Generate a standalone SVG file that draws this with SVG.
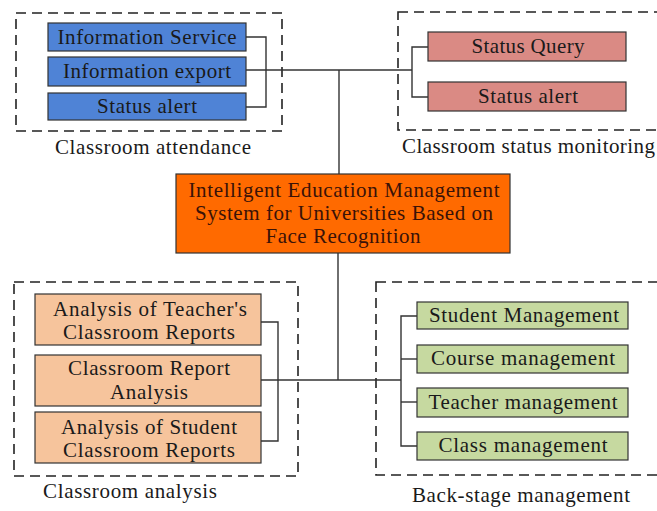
<svg xmlns="http://www.w3.org/2000/svg" width="657" height="511" viewBox="0 0 657 511">
<style>
text{font-family:"Liberation Serif","Times New Roman",serif;font-size:21px;fill:#1a1a1a;text-anchor:middle}
.grp{fill:none;stroke:#222;stroke-width:1.6;stroke-dasharray:10 6}
.box{stroke:#333;stroke-width:1.2}
.blue{fill:#4f83d6}
.pink{fill:#da8a84}
.peach{fill:#f6c49c}
.green{fill:#c6d9a0}
.orange{fill:#ff6a00}
.con{fill:none;stroke:#333;stroke-width:1.4}
.title{fill:#3a1208}
</style>
<rect width="657" height="511" fill="#fff"/>
<g id="group-attendance">
<rect class="grp" x="16" y="13" width="266" height="118"/>
<text x="153" y="154" textLength="196" lengthAdjust="spacing">Classroom attendance</text>
</g>
<g id="group-monitoring">
<rect class="grp" x="398" y="12" width="270" height="118"/>
<text x="402" y="153" style="text-anchor:start" textLength="253" lengthAdjust="spacing">Classroom status monitoring</text>
</g>
<g id="group-analysis">
<rect class="grp" x="14" y="282" width="284" height="194"/>
<text x="130" y="498" textLength="174" lengthAdjust="spacing">Classroom analysis</text>
</g>
<g id="group-backstage">
<rect class="grp" x="376" y="282" width="292" height="193"/>
<text x="521" y="502" textLength="218" lengthAdjust="spacing">Back-stage management</text>
</g>
<g id="connectors">
<polyline class="con" points="246,37 266,37 266,107 246,107"/>
<line class="con" x1="246" y1="70" x2="412" y2="70"/>
<line class="con" x1="339" y1="70" x2="339" y2="174"/>
<polyline class="con" points="428,47 412,47 412,97 428,97"/>
<line class="con" x1="338" y1="253" x2="338" y2="380"/>
<polyline class="con" points="261,322 278,322 278,441 261,441"/>
<line class="con" x1="261" y1="380" x2="401" y2="380"/>
<polyline class="con" points="417,316 401,316 401,446 417,446"/>
<line class="con" x1="401" y1="359" x2="417" y2="359"/>
<line class="con" x1="401" y1="402" x2="417" y2="402"/>
</g>
<g id="center">
<rect class="box orange" x="176" y="174" width="334" height="79"/>
<text class="title" x="344" y="197" textLength="311" lengthAdjust="spacing">Intelligent Education Management</text>
<text class="title" x="344" y="220" textLength="298" lengthAdjust="spacing">System for Universities Based on</text>
<text class="title" x="343" y="243" textLength="155" lengthAdjust="spacing">Face Recognition</text>
</g>
<g id="info-service">
<rect class="box blue" x="48" y="23" width="198" height="28"/>
<text x="147" y="44" textLength="179" lengthAdjust="spacing">Information Service</text>
</g>
<g id="info-export">
<rect class="box blue" x="48" y="57" width="198" height="29"/>
<text x="147" y="78" textLength="168" lengthAdjust="spacing">Information export</text>
</g>
<g id="status-alert-1">
<rect class="box blue" x="48" y="93" width="198" height="27"/>
<text x="147" y="113" textLength="100" lengthAdjust="spacing">Status alert</text>
</g>
<g id="status-query">
<rect class="box pink" x="428" y="32" width="198" height="29"/>
<text x="528" y="53" textLength="113" lengthAdjust="spacing">Status Query</text>
</g>
<g id="status-alert-2">
<rect class="box pink" x="428" y="82" width="198" height="29"/>
<text x="528" y="103" textLength="100" lengthAdjust="spacing">Status alert</text>
</g>
<g id="teacher-reports">
<rect class="box peach" x="35" y="294" width="226" height="51"/>
<text x="150" y="316" textLength="194" lengthAdjust="spacing">Analysis of Teacher's</text>
<text x="149" y="339" textLength="172" lengthAdjust="spacing">Classroom Reports</text>
</g>
<g id="report-analysis">
<rect class="box peach" x="35" y="355" width="226" height="51"/>
<text x="149" y="375" textLength="162" lengthAdjust="spacing">Classroom Report</text>
<text x="149" y="399" textLength="78" lengthAdjust="spacing">Analysis</text>
</g>
<g id="student-reports">
<rect class="box peach" x="35" y="412" width="226" height="51"/>
<text x="149" y="434" textLength="176" lengthAdjust="spacing">Analysis of Student</text>
<text x="149" y="457" textLength="172" lengthAdjust="spacing">Classroom Reports</text>
</g>
<g id="student-mgmt">
<rect class="box green" x="417" y="302" width="211" height="27"/>
<text x="524" y="322" textLength="190" lengthAdjust="spacing">Student Management</text>
</g>
<g id="course-mgmt">
<rect class="box green" x="417" y="345" width="211" height="28"/>
<text x="523" y="365" textLength="184" lengthAdjust="spacing">Course management</text>
</g>
<g id="teacher-mgmt">
<rect class="box green" x="417" y="388" width="211" height="29"/>
<text x="523" y="409" textLength="189" lengthAdjust="spacing">Teacher management</text>
</g>
<g id="class-mgmt">
<rect class="box green" x="417" y="432" width="211" height="28"/>
<text x="523" y="452" textLength="169" lengthAdjust="spacing">Class management</text>
</g>
</svg>
